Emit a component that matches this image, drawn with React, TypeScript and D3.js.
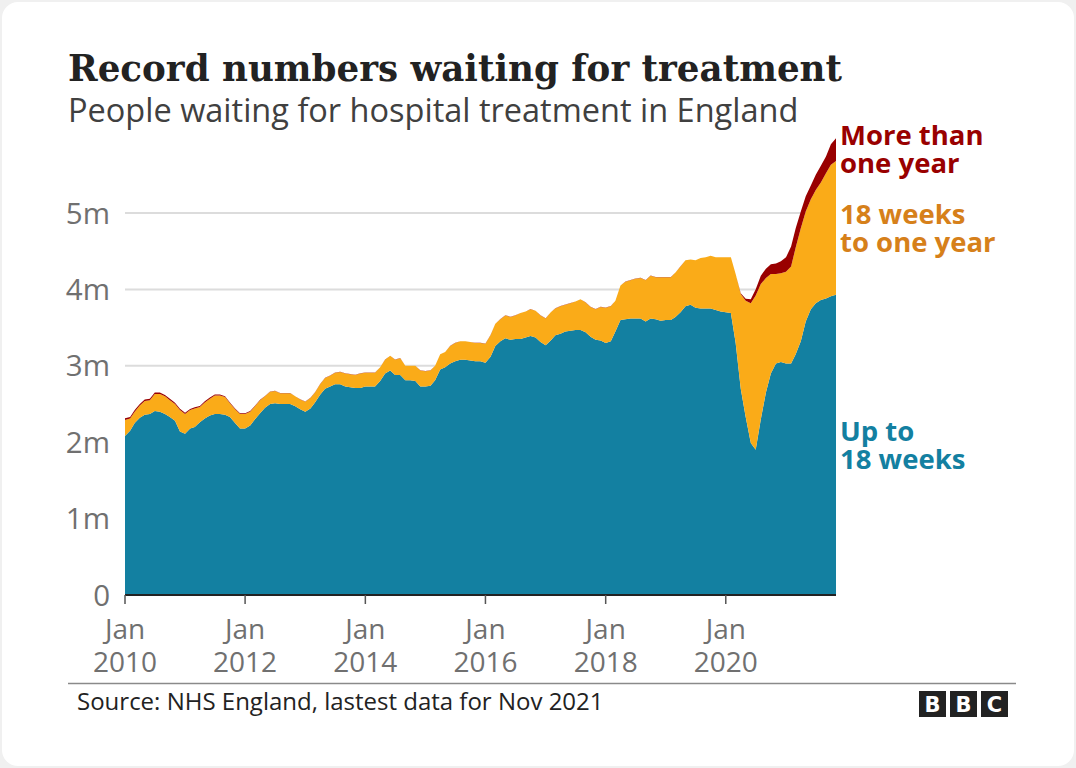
import React from "react";
import * as d3 from "d3";

// Monthly data, Jan 2010 – Nov 2021, millions of people waiting
const startYear = 2010;
const startMonth = 0;

const upTo18Weeks = [
  2.08, 2.15, 2.25, 2.32, 2.36, 2.37, 2.41, 2.40, 2.37, 2.33, 2.28, 2.14,
  2.11, 2.18, 2.20, 2.26, 2.31, 2.35, 2.37, 2.37, 2.36, 2.33, 2.25, 2.18,
  2.18, 2.22, 2.30, 2.38, 2.45, 2.50, 2.51, 2.50, 2.50, 2.50, 2.47, 2.43,
  2.40, 2.44, 2.52, 2.62, 2.70, 2.73, 2.76, 2.76, 2.73, 2.72, 2.71, 2.71,
  2.73, 2.73, 2.73, 2.80, 2.90, 2.94, 2.88, 2.88, 2.81, 2.81, 2.80, 2.73,
  2.73, 2.74, 2.81, 2.95, 2.98, 3.03, 3.06, 3.08, 3.08, 3.07, 3.06, 3.06,
  3.04, 3.12, 3.26, 3.32, 3.36, 3.34, 3.35, 3.35, 3.37, 3.39, 3.37, 3.31,
  3.27, 3.33, 3.40, 3.42, 3.45, 3.46, 3.47, 3.47, 3.44, 3.38, 3.34, 3.33,
  3.30, 3.32, 3.45, 3.60, 3.61, 3.62, 3.62, 3.62, 3.58, 3.62, 3.61, 3.59,
  3.60, 3.60, 3.64, 3.70, 3.78, 3.80, 3.76, 3.75, 3.75, 3.75, 3.73, 3.71,
  3.70, 3.69, 3.30, 2.70, 2.33, 1.99, 1.90, 2.30, 2.65, 2.90, 3.03, 3.05,
  3.03, 3.03, 3.15, 3.32, 3.58, 3.74, 3.82, 3.86, 3.88, 3.91, 3.93,
];

const weeks18ToOneYear = [
  0.21, 0.16, 0.15, 0.16, 0.18, 0.18, 0.22, 0.23, 0.23, 0.22, 0.22, 0.28,
  0.26, 0.24, 0.24, 0.20, 0.21, 0.22, 0.24, 0.24, 0.23, 0.18, 0.18, 0.19,
  0.19, 0.18, 0.17, 0.17, 0.15, 0.16, 0.16, 0.14, 0.14, 0.14, 0.13, 0.13,
  0.13, 0.14, 0.13, 0.14, 0.14, 0.14, 0.15, 0.16, 0.17, 0.17, 0.17, 0.19,
  0.18, 0.18, 0.18, 0.18, 0.18, 0.19, 0.20, 0.22, 0.19, 0.19, 0.20, 0.21,
  0.20, 0.20, 0.19, 0.20, 0.20, 0.23, 0.24, 0.24, 0.24, 0.24, 0.24, 0.24,
  0.25, 0.28, 0.29, 0.29, 0.30, 0.30, 0.31, 0.34, 0.34, 0.35, 0.35, 0.35,
  0.35, 0.37, 0.35, 0.36, 0.35, 0.36, 0.37, 0.40, 0.39, 0.39, 0.40, 0.44,
  0.46, 0.46, 0.40, 0.45, 0.49, 0.50, 0.52, 0.53, 0.54, 0.56, 0.55, 0.57,
  0.56, 0.56, 0.58, 0.60, 0.60, 0.59, 0.62, 0.66, 0.67, 0.69, 0.69, 0.71,
  0.72, 0.73, 0.90, 1.24, 1.52, 1.83, 2.02, 1.77, 1.50, 1.30, 1.17, 1.16,
  1.20, 1.27, 1.40, 1.48, 1.44, 1.44, 1.48, 1.54, 1.64, 1.72, 1.75,
];

const moreThanOneYear = [
  0.022, 0.021, 0.021, 0.020, 0.020, 0.020, 0.020, 0.020, 0.019, 0.019, 0.018, 0.018,
  0.017, 0.016, 0.016, 0.015, 0.015, 0.014, 0.014, 0.013, 0.012, 0.011, 0.010, 0.009,
  0.008, 0.007, 0.006, 0.005, 0.005, 0.004, 0.004, 0.004, 0.003, 0.003, 0.003, 0.003,
  0.003, 0.003, 0.003, 0.003, 0.002, 0.002, 0.002, 0.002, 0.002, 0.002, 0.002, 0.002,
  0.002, 0.002, 0.002, 0.002, 0.002, 0.002, 0.002, 0.002, 0.002, 0.002, 0.002, 0.002,
  0.002, 0.002, 0.002, 0.002, 0.002, 0.002, 0.002, 0.002, 0.002, 0.002, 0.002, 0.002,
  0.002, 0.002, 0.002, 0.002, 0.002, 0.002, 0.002, 0.002, 0.002, 0.002, 0.002, 0.002,
  0.002, 0.002, 0.002, 0.002, 0.002, 0.002, 0.002, 0.002, 0.002, 0.002, 0.002, 0.002,
  0.002, 0.002, 0.002, 0.002, 0.002, 0.002, 0.002, 0.002, 0.002, 0.002, 0.002, 0.002,
  0.002, 0.002, 0.002, 0.002, 0.002, 0.002, 0.002, 0.002, 0.002, 0.002, 0.002, 0.002,
  0.002, 0.002, 0.003, 0.011, 0.026, 0.05, 0.083, 0.11, 0.12, 0.13, 0.14, 0.16,
  0.19, 0.26, 0.25, 0.22, 0.20, 0.18, 0.20, 0.22, 0.22, 0.27, 0.30,
];

const yTickValues = [0, 1, 2, 3, 4, 5];
const yTickLabels = ["0", "1m", "2m", "3m", "4m", "5m"];
const xTickYears = [2010, 2012, 2014, 2016, 2018, 2020];

const seriesKeys = ["up", "mid", "over"];
const seriesColors = ["#1380A1", "#FAAB18", "#990000"];

const titleText = "Record numbers waiting for treatment";
const subtitleText = "People waiting for hospital treatment in England";
const sourceText = "Source: NHS England, lastest data for Nov 2021";

const SANS = "'Open Sans', 'Noto Sans', sans-serif";

export default function App() {
  const W = 1076;
  const H = 768;
  const left = 125;
  const right = 836;
  const bottom = 595;
  const top5m = 213;

  const rows = upTo18Weeks.map((v, i) => ({
    date: new Date(startYear, startMonth + i, 1),
    up: v,
    mid: weeks18ToOneYear[i],
    over: moreThanOneYear[i],
  }));

  const x = d3
    .scaleTime()
    .domain([rows[0].date, rows[rows.length - 1].date])
    .range([left, right]);
  const y = d3.scaleLinear().domain([0, 5]).range([bottom, top5m]);

  const stacked = d3.stack<any>().keys(seriesKeys)(rows);
  const area = d3
    .area<any>()
    .x((d: any) => x(d.data.date))
    .y0((d: any) => y(d[0]))
    .y1((d: any) => y(d[1]))
    .curve(d3.curveLinear);

  return (
    <div style={{ position: "absolute", left: 0, top: 0 }}>
      <svg width={W} height={H} style={{ display: "block" }}>
        <rect x={0} y={0} width={W} height={H} fill="#f0f0f0" />
        <rect x={2} y={2} width={W - 4} height={H - 4} rx={16} fill="#ffffff" />

        <text
          x={68}
          y={81}
          fontFamily="'DejaVu Serif', serif"
          fontWeight={700}
          fontSize={37}
          fill="#222222"
          textLength={774}
          lengthAdjust="spacingAndGlyphs"
        >
          {titleText}
        </text>
        <text x={68} y={122} fontFamily={SANS} fontSize={32.5} fill="#404040">
          {subtitleText}
        </text>

        {yTickValues
          .filter((v) => v > 0)
          .map((v) => (
            <line
              key={"g" + v}
              x1={left}
              x2={right}
              y1={y(v)}
              y2={y(v)}
              stroke="#dcdcdc"
              strokeWidth={2}
            />
          ))}

        {stacked.map((s, i) => (
          <path key={seriesKeys[i]} d={area(s as any) || ""} fill={seriesColors[i]} />
        ))}

        <line x1={left} x2={right} y1={bottom} y2={bottom} stroke="#222222" strokeWidth={2} />

        {yTickValues.map((v, i) => (
          <text
            key={"yl" + v}
            x={110}
            y={y(v) + 10.5}
            textAnchor="end"
            fontFamily={SANS}
            fontSize={29.5}
            fill="#707070"
          >
            {yTickLabels[i]}
          </text>
        ))}

        {xTickYears.map((yr) => {
          const px = x(new Date(yr, 0, 1));
          return (
            <g key={"xt" + yr}>
              <line x1={px} x2={px} y1={bottom} y2={bottom + 9} stroke="#555555" strokeWidth={1.5} />
              <text x={px} y={639} textAnchor="middle" fontFamily={SANS} fontSize={28} fill="#707070">
                Jan
              </text>
              <text x={px} y={671.5} textAnchor="middle" fontFamily={SANS} fontSize={28} fill="#707070">
                {yr}
              </text>
            </g>
          );
        })}

        <g fontFamily={SANS} fontWeight={700} fontSize={27.5}>
          <text x={840} y={145} fill="#990000">More than</text>
          <text x={840} y={173} fill="#990000">one year</text>
          <text x={840} y={224} fill="#D6801A">18 weeks</text>
          <text x={840} y={252} fill="#D6801A">to one year</text>
          <text x={840} y={441} fill="#1380A1">Up to</text>
          <text x={840} y={469} fill="#1380A1">18 weeks</text>
        </g>

        <line x1={68} x2={1016} y1={683.5} y2={683.5} stroke="#8a8a8a" strokeWidth={1.5} />
        <text x={77} y={710} fontFamily={SANS} fontSize={24} fill="#222222">
          {sourceText}
        </text>

        {["B", "B", "C"].map((ch, i) => (
          <g key={"bbc" + i}>
            <rect x={919 + i * 31} y={691} width={27} height={26} fill="#222222" />
            <text
              x={919 + i * 31 + 13.5}
              y={712}
              textAnchor="middle"
              fontFamily="'DejaVu Sans', sans-serif"
              fontWeight={700}
              fontSize={21}
              fill="#ffffff"
            >
              {ch}
            </text>
          </g>
        ))}
      </svg>
    </div>
  );
}
